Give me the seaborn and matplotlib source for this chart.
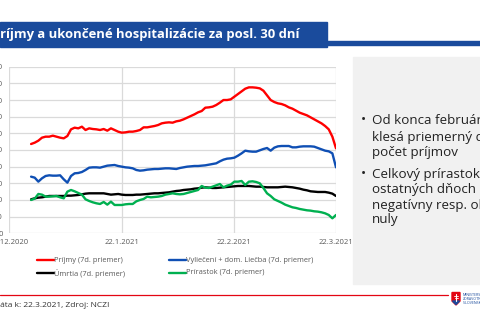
import matplotlib
matplotlib.use("Agg")
import matplotlib.pyplot as plt
from matplotlib.patches import Rectangle, Polygon
from matplotlib.lines import Line2D
import numpy as np
import pandas as pd
import seaborn as sns

# ---------------- data ----------------
start_date = "2020-12-28"
end_date = "2021-03-22"

prijmy = [268, 272, 278, 287, 290, 290, 293, 290, 287, 285, 292, 312, 317, 315, 320, 310,
          315, 313, 312, 310, 313, 308, 315, 310, 305, 302, 303, 305, 305, 307, 310, 318,
          318, 320, 322, 325, 330, 332, 333, 332, 336, 338, 342, 347, 352, 357, 363, 367,
          377, 378, 380, 385, 392, 400, 400, 402, 410, 418, 426, 434, 438, 438, 437, 435,
          428, 414, 400, 394, 390, 388, 384, 378, 374, 368, 362, 358, 354, 348, 342, 336,
          330, 322, 312, 290, 255]
vylieceni = [170, 167, 155, 165, 172, 174, 173, 173, 174, 162, 152, 172, 180, 181, 184, 190,
             197, 198, 198, 197, 200, 203, 204, 205, 202, 200, 198, 197, 195, 190, 188, 189,
             191, 192, 193, 193, 194, 195, 195, 194, 193, 196, 198, 200, 201, 202, 202, 203,
             204, 206, 208, 210, 216, 221, 224, 225, 227, 233, 240, 248, 246, 245, 245, 249,
             253, 256, 248, 257, 261, 262, 262, 262, 258, 258, 260, 261, 261, 261, 260, 256,
             252, 248, 246, 240, 198]
umrtia = [102, 105, 107, 108, 110, 112, 112, 112, 112, 112, 113, 113, 114, 115, 117, 119,
          120, 120, 120, 120, 120, 118, 116, 117, 118, 116, 115, 115, 115, 116, 116, 117,
          118, 119, 120, 120, 121, 122, 123, 125, 127, 128, 130, 131, 132, 134, 135, 137,
          138, 137, 136, 136, 137, 138, 139, 140, 141, 142, 142, 142, 142, 141, 140, 140,
          139, 138, 138, 138, 138, 139, 140, 139, 138, 136, 134, 131, 129, 126, 125, 124,
          124, 124, 122, 119, 112]
prirastok = [100, 104, 118, 116, 110, 110, 111, 112, 108, 105, 125, 130, 126, 121, 116, 102,
             97, 93, 90, 88, 94, 86, 95, 85, 85, 85, 87, 88, 88, 96, 100, 103,
             110, 108, 109, 110, 112, 116, 118, 120, 118, 117, 118, 121, 124, 127, 130, 142,
             137, 136, 140, 144, 148, 138, 143, 146, 155, 155, 157, 145, 155, 156, 154, 150,
             136, 120, 112, 102, 97, 92, 86, 82, 78, 76, 73, 71, 69, 68, 66, 65,
             63, 60, 55, 45, 55]

series_names = ["Príjmy (7d. priemer)", "Vyliečení + dom. Liečba (7d. priemer)",
                "Úmrtia (7d. priemer)", "Prírastok (7d. priemer)"]
series_colors = ["#ff0000", "#0f4fb4", "#000000", "#00b050"]

x_tick_dates = ["2020-12-22", "2021-01-22", "2021-02-22", "2021-03-22"]
x_tick_labels = ["22.12.2020", "22.1.2021", "22.2.2021", "22.3.2021"]
y_ticks = [0, 50, 100, 150, 200, 250, 300, 350, 400, 450, 500]

title_text = "Príjmy a ukončené hospitalizácie za posl. 30 dní"
bullet_lines = [["Od konca februára", "klesá priemerný denný", "počet príjmov"],
                ["Celkový prírastok v", "ostatných dňoch", "negatívny resp. okolo", "nuly"]]
footer_text = "Dáta k: 22.3.2021, Zdroj: NCZI"

# ---------------- frame ----------------
dates = pd.date_range(start_date, end_date, freq="D")
df = pd.DataFrame({"date": np.tile(dates, 4),
                   "value": prijmy + vylieceni + umrtia + prirastok,
                   "series": np.repeat(series_names, len(dates))})

sns.set_theme(style="white")
plt.rcParams["font.family"] = ["Open Sans", "DejaVu Sans"]

W, H = 480, 323
fig = plt.figure(figsize=(4.8, 3.23), dpi=100)
fig.patch.set_facecolor("white")

def fx(px):
    return px / W

def fy(py):
    return 1 - py / H

# title bar
fig.patches.append(Rectangle((fx(0), fy(46.5)), fx(327), (46.5 - 22) / H,
                             transform=fig.transFigure, color="#1a4b9c", zorder=1))
fig.patches.append(Rectangle((fx(0), fy(45)), 1, 4 / H,
                             transform=fig.transFigure, color="#1a4b9c", zorder=1))
fig.text(fx(-8), fy(34.5), title_text, color="white", fontsize=9.4, fontweight="bold",
         family=["Open Sans", "DejaVu Sans"], va="center", ha="left", zorder=3)

# gray box
fig.patches.append(Rectangle((fx(353), fy(284)), fx(140), (284 - 57.3) / H,
                             transform=fig.transFigure, color="#f1f1f1", zorder=0))
yline = [120, 137.5, 152.5, 174.5, 190, 205, 220]
k = 0
for grp in bullet_lines:
    for j, line in enumerate(grp):
        if j == 0:
            fig.text(fx(361), fy(yline[k]), "•", fontsize=10, color="#222222", va="center")
        fig.text(fx(371.5), fy(yline[k]), line, fontsize=9.6, color="#222222", va="center")
        k += 1

# axes
ax = fig.add_axes([fx(9.3), fy(233.3), fx(336 - 9.3), (233.3 - 66.7) / H])
sns.lineplot(data=df, x="date", y="value", hue="series", hue_order=series_names,
             palette=series_colors, linewidth=1.7, legend=False, ax=ax, zorder=3)
ax.set_xlim(pd.Timestamp(x_tick_dates[0]), pd.Timestamp(x_tick_dates[-1]))
ax.set_ylim(0, 500)
ax.set_xticks([pd.Timestamp(d) for d in x_tick_dates])
ax.set_xticklabels(x_tick_labels)
ax.set_yticks(y_ticks)
ax.set_yticklabels([str(v) for v in y_ticks])
ax.set_xlabel("")
ax.set_ylabel("")
for s in ax.spines.values():
    s.set_visible(False)
ax.grid(True, color="#dadada", linewidth=0.9)
ax.tick_params(axis="both", length=0, labelsize=5.5, colors="#595959")
ax.tick_params(axis="y", pad=4.8)
ax.tick_params(axis="x", pad=4)
ax.set_facecolor("white")

# legend
leg_pos = [(37, 260), (169, 260), (37, 273), (169, 273)]
for i in range(4):
    x0, y0 = leg_pos[i]
    fig.lines.append(Line2D([fx(x0), fx(x0 + 16.5)], [fy(y0), fy(y0)],
                            transform=fig.transFigure, color=series_colors[i], linewidth=1.7))
    fig.text(fx(x0 + 17.5), fy(y0), series_names[i], fontsize=5.4, color="#595959",
             va="center", ha="left")

# footer
fig.lines.append(Line2D([0, fx(448)], [fy(295.3), fy(295.3)], transform=fig.transFigure,
                        color="#e30613", linewidth=0.9))
fig.text(fx(-5.5), fy(305.5), footer_text, fontsize=6, color="#333333", va="center", ha="left")

# logo
shield = Polygon([(fx(452), fy(292.5)), (fx(460), fy(292.5)), (fx(460), fy(301)),
                  (fx(456), fy(305)), (fx(452), fy(301))], closed=True,
                 transform=fig.transFigure, color="#e30613")
fig.patches.append(shield)
fig.patches.append(Polygon([(fx(452.5), fy(301)), (fx(459.5), fy(301)), (fx(456), fy(304.5))],
                           closed=True, transform=fig.transFigure, color="#1a4b9c"))
fig.lines.append(Line2D([fx(456), fx(456)], [fy(294), fy(300.5)], transform=fig.transFigure,
                        color="white", linewidth=0.8))
fig.lines.append(Line2D([fx(454), fx(458)], [fy(296), fy(296)], transform=fig.transFigure,
                        color="white", linewidth=0.6))
fig.lines.append(Line2D([fx(454.5), fx(457.5)], [fy(298), fy(298)], transform=fig.transFigure,
                        color="white", linewidth=0.6))
for t, yy in zip(["MINISTERSTVO", "ZDRAVOTNÍCTVA", "SLOVENSKEJ REPUBLIKY"], [294.5, 298.5, 302.5]):
    fig.text(fx(463), fy(yy), t, fontsize=2.6, color="#1a4b9c", va="center", ha="left")

fig.savefig("out.png", dpi=100)
